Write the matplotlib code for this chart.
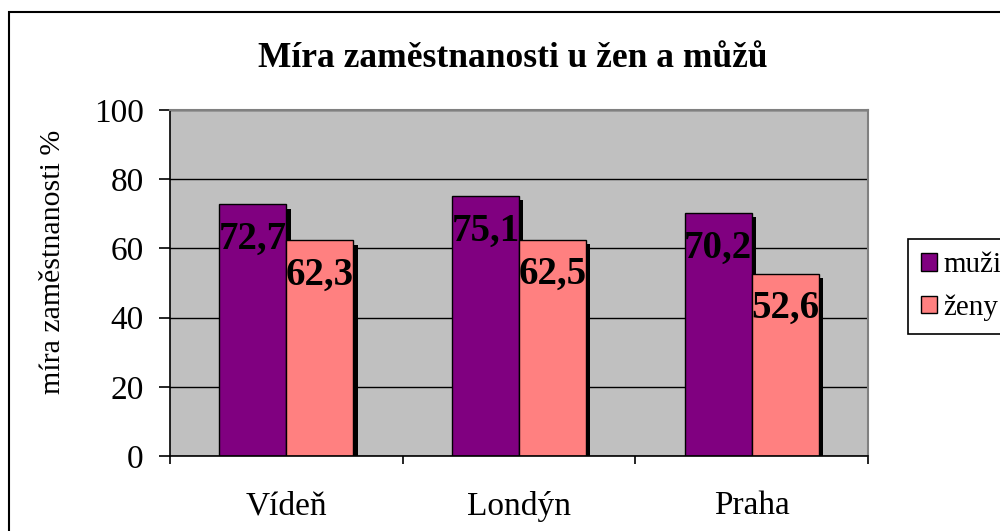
import numpy as np
import matplotlib.pyplot as plt
import matplotlib.patches as patches
import matplotlib.patheffects as pe

plt.rcParams['font.family'] = ['Liberation Serif', 'DejaVu Serif']

# data
mesta = ['Vídeň', 'Londýn', 'Praha']
muzi = [72.7, 75.1, 70.2]
zeny = [62.3, 62.5, 52.6]
popisky_muzi = ['72,7', '75,1', '70,2']
popisky_zeny = ['62,3', '62,5', '52,6']

fig = plt.figure(figsize=(10, 5.31), dpi=100)
ax = fig.add_axes([0.17, 0.1412, 0.698, 0.6516])

# outer frame of the chart
fig.patches.append(patches.Rectangle((0.009, -0.1), 1.2, 1.0774, transform=fig.transFigure,
                                     fill=False, edgecolor='black', linewidth=1.5))

x = np.arange(len(mesta))
w = 0.288
stin = [pe.SimplePatchShadow(offset=(3, -3), shadow_rgbFace='black', alpha=1), pe.Normal()]

b1 = ax.bar(x - w/2, muzi, w, color='#800080', edgecolor='black', linewidth=1,
            path_effects=stin, label='muži')
b2 = ax.bar(x + w/2, zeny, w, color='#FF8080', edgecolor='black', linewidth=1,
            path_effects=stin, label='ženy')

for i in range(len(mesta)):
    ax.annotate(popisky_muzi[i], (x[i] - w/2, muzi[i]), xytext=(0, -25), textcoords='offset points',
                ha='center', va='center', fontsize=28, fontweight='bold')
    ax.annotate(popisky_zeny[i], (x[i] + w/2, zeny[i]), xytext=(0, -25), textcoords='offset points',
                ha='center', va='center', fontsize=28, fontweight='bold')

ax.set_facecolor('#C0C0C0')
ax.set_xlim(-0.5, 2.5)
ax.set_ylim(0, 100)
ax.set_yticks([0, 20, 40, 60, 80, 100])
ax.yaxis.grid(True, color='black', linewidth=1)
ax.set_axisbelow(True)

# category ticks at borders, labels in the middle
ax.set_xticks([-0.5, 0.5, 1.5, 2.5])
ax.set_xticklabels([])
ax.set_xticks(x, minor=True)
ax.set_xticklabels(mesta, minor=True, fontsize=24)
ax.tick_params(axis='x', which='minor', length=0, pad=25)
ax.tick_params(axis='x', which='major', length=6, width=1.2, direction='out')
ax.tick_params(axis='y', length=8, width=1.2, labelsize=24, pad=11)

for s in ['top', 'right']:
    ax.spines[s].set_color('#808080')
    ax.spines[s].set_linewidth(1.5)
ax.spines['left'].set_linewidth(1.2)
ax.spines['bottom'].set_linewidth(1.2)

ax.set_ylabel('míra zaměstnanosti %', fontsize=21.5)
ax.yaxis.set_label_coords(-0.149, 0.56)

fig.text(0.5125, 0.89, 'Míra zaměstnanosti u žen a můžů', ha='center', va='center',
         fontsize=25.5, fontweight='bold')

leg = fig.legend(handles=[b1, b2], loc='upper left', bbox_to_anchor=(0.908, 1 - 239/531),
                 fontsize=21, fancybox=False, edgecolor='black', framealpha=1,
                 handlelength=0.55, handleheight=0.55, handletextpad=0.2,
                 borderpad=0.45, labelspacing=0.55, borderaxespad=0)
leg.get_frame().set_linewidth(1.2)
for h in leg.legend_handles:
    h.set_path_effects([])

fig.savefig('out.png', dpi=100)
